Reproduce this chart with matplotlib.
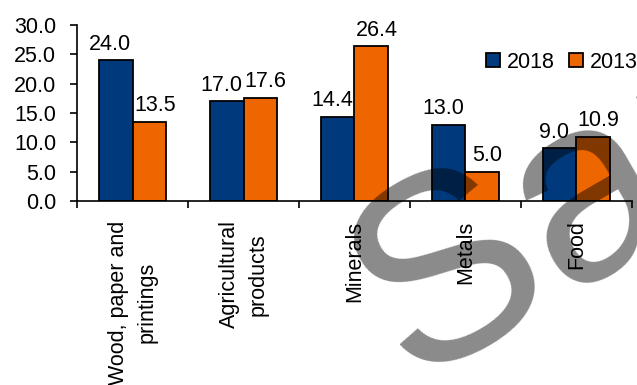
import matplotlib
matplotlib.use("Agg")
import matplotlib.pyplot as plt
import numpy as np
from matplotlib.ticker import FixedLocator, FormatStrFormatter

plt.rcParams['font.family'] = ['Liberation Sans', 'DejaVu Sans']

categories = ["Wood, paper and\nprintings", "Agricultural\nproducts", "Minerals", "Metals", "Food"]
series_names = ["2018", "2013"]
values_2018 = [24.0, 17.0, 14.4, 13.0, 9.0]
values_2013 = [13.5, 17.6, 26.4, 5.0, 10.9]

blue = "#003A7D"
orange = "#EE6600"
fs = 15.5

fig = plt.figure(figsize=(6.37, 3.85), dpi=100)
ax = fig.add_axes([0.121, 0.478, 0.871, 0.457])

x = np.arange(len(categories))
w = 0.3
b1 = ax.bar(x - w / 2, values_2018, w, color=blue, edgecolor="black", linewidth=1.3, label=series_names[0])
b2 = ax.bar(x + w / 2, values_2013, w, color=orange, edgecolor="black", linewidth=1.3, label=series_names[1])

# value labels, nudged apart so neighbouring labels don't collide
for bars, vals, dx in ((b1, values_2018, -4), (b2, values_2013, 4)):
    for rect, v in zip(bars, vals):
        ax.annotate(f"{v:.1f}", (rect.get_x() + rect.get_width() / 2, v),
                    xytext=(dx, 4), textcoords="offset points",
                    ha="center", va="bottom", fontsize=fs, annotation_clip=False)

ax.set_xlim(-0.5, len(categories) - 0.5)
ax.set_ylim(0, 30)
ax.set_yticks(np.arange(0, 30.1, 5))
ax.yaxis.set_major_formatter(FormatStrFormatter("%.1f"))

ax.set_xticks(x)
ax.set_xticklabels(categories, rotation=90, fontsize=fs, va="top", ha="center",
                   multialignment="center", linespacing=1.45)
ax.xaxis.set_minor_locator(FixedLocator(np.arange(-0.5, len(categories), 1.0)))
ax.tick_params(axis="x", which="major", length=0, pad=14)
ax.tick_params(axis="x", which="minor", length=5, width=1.2, direction="out")
ax.tick_params(axis="y", length=5, width=1.2, direction="out", labelsize=fs, pad=10)

for s in ("top", "right"):
    ax.spines[s].set_visible(False)
for s in ("left", "bottom"):
    ax.spines[s].set_linewidth(1.2)

fig.legend(handles=[b1, b2], labels=series_names, loc="center left",
           bbox_to_anchor=(486 / 637, 1 - 62 / 385), ncol=2, frameon=False,
           fontsize=fs, handlelength=0.65, handleheight=0.65,
           handletextpad=0.3, columnspacing=0.7, borderaxespad=0, borderpad=0)

# Watermark
fig.text(0.6433, 0.0101, "Sample", fontsize=190, rotation=30,
         rotation_mode="anchor", ha="left", va="baseline",
         color="black", alpha=0.46, zorder=10)

fig.savefig("out.png", dpi=100)
